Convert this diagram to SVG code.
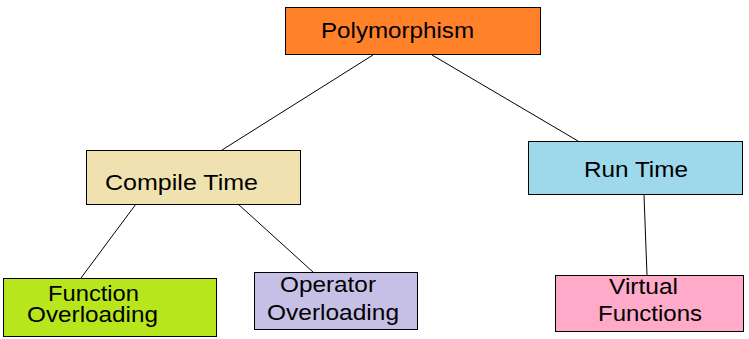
<svg xmlns="http://www.w3.org/2000/svg" width="749" height="339" viewBox="0 0 749 339">
<style>
.box{stroke:#000;stroke-width:1}
.t{font-family:"Liberation Sans",Arial,sans-serif;font-size:21.5px;fill:#000}
.c{stroke:#000;stroke-width:1;fill:none}
</style>
<rect width="749" height="339" fill="#fff"/>
<g id="connectors">
<line class="c" x1="373" y1="55" x2="222" y2="150"/>
<line class="c" x1="432" y1="55" x2="578" y2="141"/>
<line class="c" x1="136" y1="204" x2="81" y2="278"/>
<line class="c" x1="238" y1="204" x2="313" y2="272"/>
<line class="c" x1="644" y1="195" x2="647" y2="275"/>
</g>
<g id="polymorphism">
<rect class="box" x="285.5" y="7.5" width="255" height="47" fill="#FF8129"/>
<text class="t" x="321" y="38" textLength="153" lengthAdjust="spacingAndGlyphs">Polymorphism</text>
</g>
<g id="compile-time">
<rect class="box" x="86.5" y="150.5" width="214" height="54" fill="#F0E2B0"/>
<text class="t" x="105" y="190" textLength="153" lengthAdjust="spacingAndGlyphs">Compile Time</text>
</g>
<g id="run-time">
<rect class="box" x="528.5" y="141.5" width="214" height="53" fill="#9DD9EA"/>
<text class="t" x="584" y="177" textLength="104" lengthAdjust="spacingAndGlyphs">Run Time</text>
</g>
<g id="function-overloading">
<rect class="box" x="3.5" y="278.5" width="213" height="58" fill="#B8E61C"/>
<text class="t" x="48" y="301" textLength="91" lengthAdjust="spacingAndGlyphs">Function</text>
<text class="t" x="27" y="322" textLength="131" lengthAdjust="spacingAndGlyphs">Overloading</text>
</g>
<g id="operator-overloading">
<rect class="box" x="254.5" y="272.5" width="163" height="57" fill="#C6C0E6"/>
<text class="t" x="280" y="292" textLength="96" lengthAdjust="spacingAndGlyphs">Operator</text>
<text class="t" x="267" y="320" textLength="132" lengthAdjust="spacingAndGlyphs">Overloading</text>
</g>
<g id="virtual-functions">
<rect class="box" x="555.5" y="275.5" width="188" height="56" fill="#FFAAC8"/>
<text class="t" x="609" y="294" textLength="69" lengthAdjust="spacingAndGlyphs">Virtual</text>
<text class="t" x="598" y="321" textLength="104" lengthAdjust="spacingAndGlyphs">Functions</text>
</g>
</svg>
